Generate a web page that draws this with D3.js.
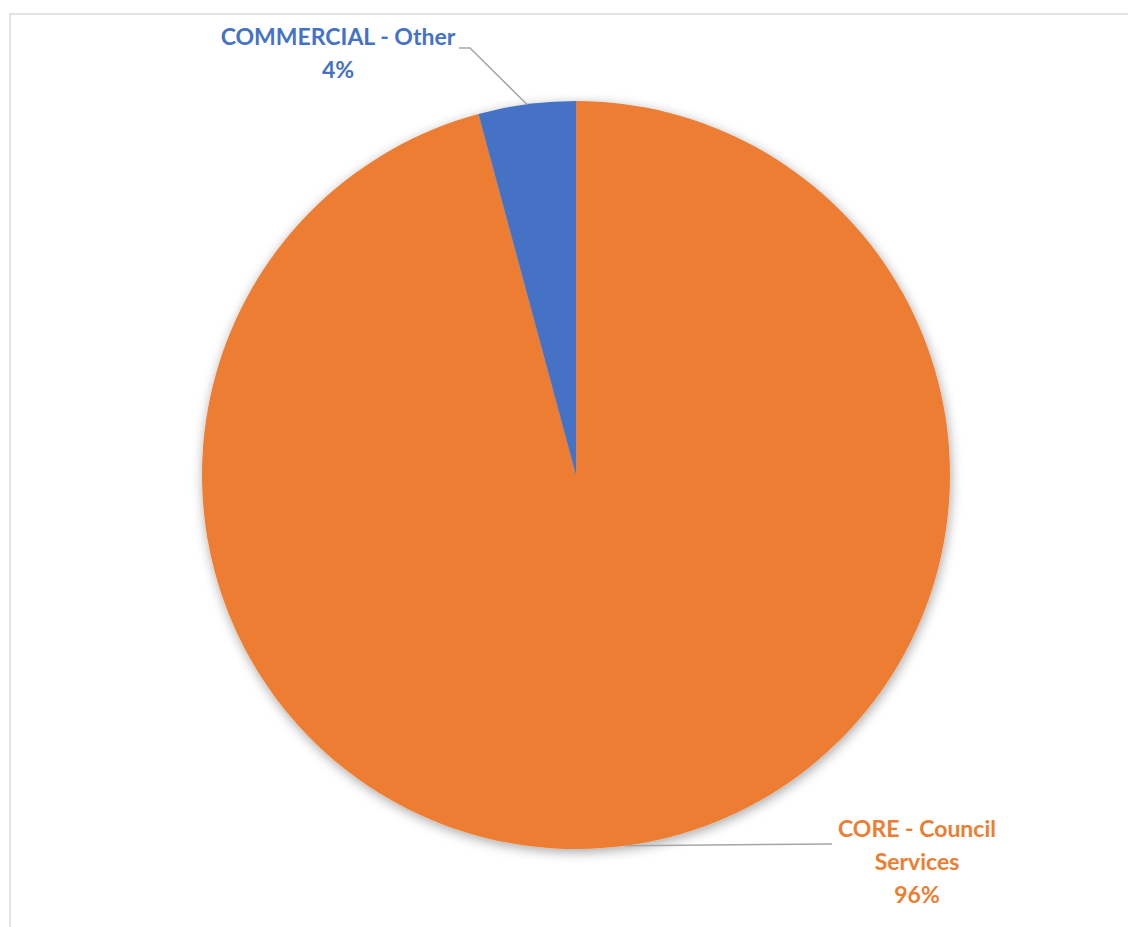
<!DOCTYPE html>
<html>
<head>
<meta charset="utf-8">
<script src="https://cdn.jsdelivr.net/npm/d3@7"></script>
<style>
  body { margin: 0; background: #fff; }
  text { font-family: Lato, "Open Sans", sans-serif; font-weight: bold; }
</style>
</head>
<body>
<div id="chart"></div>
<script>
// data
let categories = ["CORE - Council Services", "COMMERCIAL - Other"]
let values = [95.8, 4.2]
let colors = ["#ED7D31", "#4472C4"]

let width = 1128, height = 927
let cx = 576, cy = 475, radius = 374

let svg = d3.select("#chart").append("svg")
  .attr("width", width)
  .attr("height", height)

// chart border
svg.append("rect")
  .attr("x", 10).attr("y", 14)
  .attr("width", 1140).attr("height", 940)
  .attr("fill", "none")
  .attr("stroke", "#d9d9d9")
  .attr("stroke-width", 1.5)

let defs = svg.append("defs")
defs.append("filter")
  .attr("id", "shadow")
  .attr("x", "-10%").attr("y", "-10%")
  .attr("width", "120%").attr("height", "120%")
  .append("feDropShadow")
  .attr("dx", 1).attr("dy", 3)
  .attr("stdDeviation", 6)
  .attr("flood-color", "#000")
  .attr("flood-opacity", 0.35)

let total = d3.sum(values)
let data = categories.map((c, i) => ({ name: c, value: values[i], color: colors[i] }))

let pie = d3.pie().sort(null).value(d => d.value)
let arc = d3.arc().innerRadius(0).outerRadius(radius)
let arcs = pie(data)

let g = svg.append("g").attr("transform", `translate(${cx},${cy})`)

g.append("g").attr("filter", "url(#shadow)")
  .selectAll("path")
  .data(arcs)
  .enter().append("path")
  .attr("d", arc)
  .attr("fill", d => d.data.color)

let fmt = d3.format(".0%")

// label layout (positions only)
let labelPos = {
  "CORE - Council Services": { x: 917, y: 837, lines: ["CORE - Council", "Services"], knee: [832, 844] },
  "COMMERCIAL - Other": { x: 338, y: 45, lines: ["COMMERCIAL - Other"], knee: [470, 48], knee2: [459, 48] }
}

arcs.forEach(a => {
  let pos = labelPos[a.data.name]
  let mid = (a.startAngle + a.endAngle) / 2
  let px = cx + radius * Math.sin(mid)
  let py = cy - radius * Math.cos(mid)
  let pts = [[px, py], pos.knee]
  if (pos.knee2) pts.push(pos.knee2)
  svg.append("path")
    .attr("d", d3.line()(pts))
    .attr("fill", "none")
    .attr("stroke", "#a6a6a6")
    .attr("stroke-width", 1.5)

  let lines = pos.lines.concat([fmt(a.data.value / total)])
  let t = svg.append("text")
    .attr("x", pos.x).attr("y", pos.y)
    .attr("text-anchor", "middle")
    .attr("fill", a.data.color)
    .style("font-size", "23px")
  lines.forEach((l, i) => {
    t.append("tspan").attr("x", pos.x).attr("dy", i ? 33 : 0).text(l)
  })
})
</script>
</body>
</html>
